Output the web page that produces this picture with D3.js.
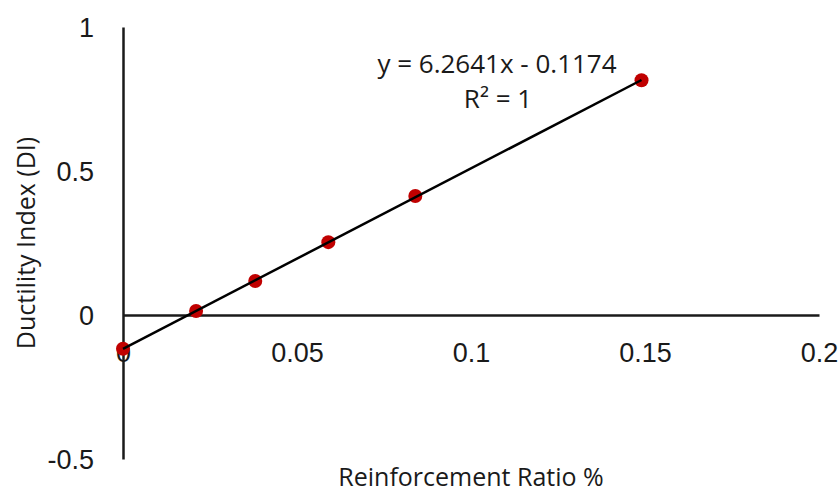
<!DOCTYPE html>
<html>
<head>
<meta charset="utf-8">
<script src="https://cdn.jsdelivr.net/npm/d3@7"></script>
<style>
  body { margin: 0; background: #fff; }
  svg { display: block; font-family: "Open Sans", "Noto Sans", sans-serif; }
  .axis text { fill: #1a1a1a; font-size: 27px; }
  .axis path { stroke: #1a1a1a; stroke-width: 2.5; }
  .title { fill: #1a1a1a; font-size: 25px; }
  .eq { fill: #1a1a1a; font-size: 26px; }
</style>
</head>
<body>
<div id="chart"></div>
<script>
// data
var ratio = [0, 0.021, 0.038, 0.059, 0.084, 0.149]
var ductility = [-0.117, 0.014, 0.118, 0.253, 0.413, 0.815]
var xTicks = [0, 0.05, 0.1, 0.15, 0.2]
var yTicks = [-0.5, 0, 0.5, 1]
var xTickLabels = ['0', '0.05', '0.1', '0.15', '0.2']
var yTickLabels = ['-0.5', '0', '0.5', '1']
// linear trendline shown on the chart
var slope = 6.2641,
    intercept = -0.1174
var eqLines = ['y = 6.2641x - 0.1174', 'R\u00b2 = 1']

var w = 840,
    h = 496

var svg = d3
    .select('#chart')
    .append('svg')
    .attr('width', w)
    .attr('height', h)

var x = d3.scaleLinear().domain([0, 0.2]).range([123, 819])
var y = d3.scaleLinear().domain([-0.5, 1]).range([459, 27])

// x axis crosses at y = 0
var xAxis = d3
    .axisBottom(x)
    .tickValues(xTicks)
    .tickFormat(function (d, i) { return xTickLabels[i] })
    .tickSizeInner(0)
    .tickSizeOuter(0)
var gx = svg
    .append('g')
    .attr('class', 'axis')
    .attr('transform', 'translate(0,' + y(0) + ')')
    .call(xAxis)
gx.selectAll('text').attr('y', 38).attr('dy', '0.35em')

// y axis at x = 0
var yAxis = d3
    .axisLeft(y)
    .tickValues(yTicks)
    .tickFormat(function (d, i) { return yTickLabels[i] })
    .tickSizeInner(0)
    .tickSizeOuter(0)
    .tickPadding(29)
var gy = svg
    .append('g')
    .attr('class', 'axis')
    .attr('transform', 'translate(' + x(0) + ',0)')
    .call(yAxis)
gy.selectAll('text').attr('dy', '0.35em')
svg.selectAll('.axis .tick line').remove()

// points
var pts = ratio.map(function (d, i) { return [d, ductility[i]] })
svg.append('g')
    .selectAll('circle')
    .data(pts)
    .enter()
    .append('circle')
    .attr('cx', function (d) { return x(d[0]) })
    .attr('cy', function (d) { return y(d[1]) })
    .attr('r', 7)
    .attr('fill', '#c00000')

// trendline over the data range
var xr = d3.extent(ratio)
var line = d3
    .line()
    .x(function (d) { return x(d) })
    .y(function (d) { return y(slope * d + intercept) })
svg.append('path')
    .attr('d', line(xr))
    .attr('fill', 'none')
    .attr('stroke', '#000')
    .attr('stroke-width', 2.5)

// equation label
svg.append('text')
    .attr('class', 'eq')
    .attr('x', 497)
    .attr('y', 73)
    .attr('text-anchor', 'middle')
    .text(eqLines[0])
svg.append('text')
    .attr('class', 'eq')
    .attr('x', 498)
    .attr('y', 108)
    .attr('text-anchor', 'middle')
    .text(eqLines[1])

// axis titles
svg.append('text')
    .attr('class', 'title')
    .attr('x', 471)
    .attr('y', 486)
    .attr('text-anchor', 'middle')
    .text('Reinforcement Ratio %')
svg.append('text')
    .attr('class', 'title')
    .attr('transform', 'translate(35,243) rotate(-90)')
    .attr('text-anchor', 'middle')
    .text('Ductility Index (DI)')
</script>
</body>
</html>
